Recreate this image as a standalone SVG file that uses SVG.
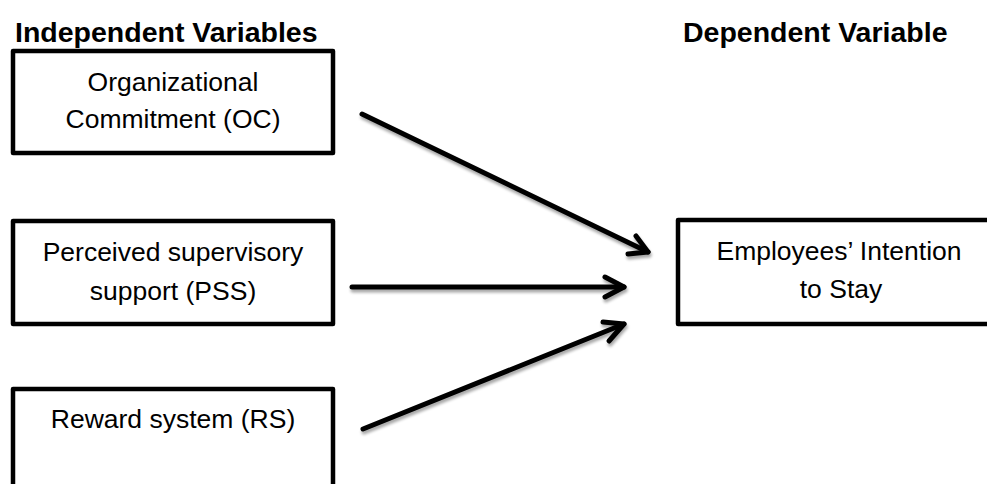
<svg xmlns="http://www.w3.org/2000/svg" width="987" height="484" viewBox="0 0 987 484">
  <style>
    .box { fill: #ffffff; stroke: #000000; stroke-width: 4.5; stroke-linejoin: round; }
    .lbl { font-family: "Liberation Sans", Arial, sans-serif; font-size: 26.5px; fill: #000000; text-anchor: middle; }
    .hdr { font-family: "Liberation Sans", Arial, sans-serif; font-size: 28.5px; font-weight: bold; fill: #000000; }
    .conn { fill: none; stroke: #000000; stroke-width: 5; stroke-linecap: round; stroke-linejoin: round; }
  </style>
  <defs>
    <filter id="sh" x="-10%" y="-10%" width="120%" height="130%">
      <feGaussianBlur in="SourceAlpha" stdDeviation="1.5"/>
      <feOffset dx="1" dy="3" result="b"/>
      <feComponentTransfer><feFuncA type="linear" slope="0.35"/></feComponentTransfer>
      <feMerge><feMergeNode/><feMergeNode in="SourceGraphic"/></feMerge>
    </filter>
  </defs>
  <rect width="987" height="484" fill="#ffffff"/>

  <text class="hdr" x="15" y="42">Independent Variables</text>
  <text class="hdr" x="683" y="42">Dependent Variable</text>

  <g id="node-oc">
    <rect class="box" x="13" y="51" width="320" height="102"/>
    <text class="lbl" x="173" y="91">Organizational</text>
    <text class="lbl" x="173" y="128">Commitment (OC)</text>
  </g>
  <g id="node-pss">
    <rect class="box" x="13" y="221" width="320" height="103"/>
    <text class="lbl" x="173" y="261">Perceived supervisory</text>
    <text class="lbl" x="173" y="300">support (PSS)</text>
  </g>
  <g id="node-rs">
    <rect class="box" x="13" y="389" width="320" height="110"/>
    <text class="lbl" x="173" y="428">Reward system (RS)</text>
  </g>
  <g id="node-eis">
    <rect class="box" x="678" y="220" width="330" height="104"/>
    <text class="lbl" x="839" y="260">Employees’ Intention</text>
    <text class="lbl" x="841" y="298">to Stay</text>
  </g>

  <g id="connectors" filter="url(#sh)">
    <line class="conn" x1="362" y1="114" x2="648" y2="252"/>
    <polyline class="conn" points="636,236 648,252 628,254"/>
    <line class="conn" x1="352" y1="287" x2="624" y2="287"/>
    <polyline class="conn" points="605,277 624,287 605,297"/>
    <line class="conn" x1="363" y1="429" x2="624" y2="324"/>
    <polyline class="conn" points="603,322 624,324 609,341"/>
  </g>
</svg>
